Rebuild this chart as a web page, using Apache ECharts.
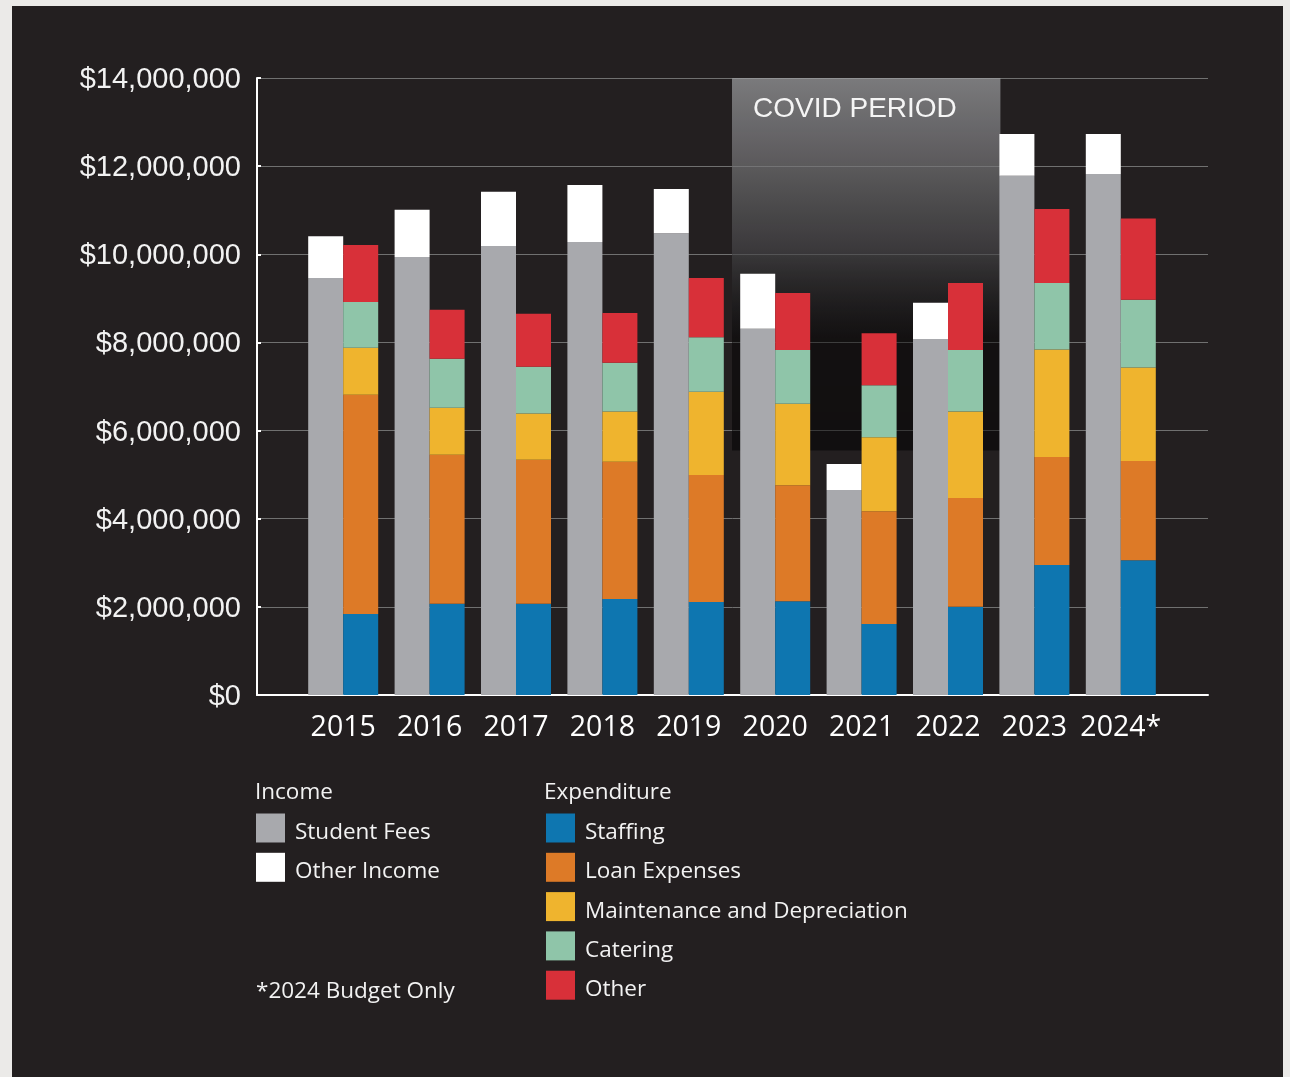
<!DOCTYPE html>
<html><head><meta charset="utf-8">
<script src="https://cdn.jsdelivr.net/npm/echarts@6/dist/echarts.min.js"></script>
<style>
html,body{margin:0;padding:0;background:#ebeae8;overflow:hidden;}
#panel{position:absolute;left:12px;top:6px;width:1271px;height:1071px;background:#231f20;}
#chart{position:absolute;left:0;top:0;width:1290px;height:1077px;}
</style></head><body>
<div id="panel"></div><div id="chart"></div>
<script>
// ---- data ----
const years = ['2015','2016','2017','2018','2019','2020','2021','2022','2023','2024*'];
const studentFees = [9460000, 9940000, 10190000, 10280000, 10480000, 8310000, 4650000, 8080000, 11780000, 11820000];
const otherIncome = [950000, 1070000, 1230000, 1290000, 1000000, 1250000, 590000, 820000, 950000, 910000];
const staffing    = [1840000, 2070000, 2070000, 2180000, 2110000, 2130000, 1610000, 2000000, 2950000, 3060000];
const loanExpenses= [4970000, 3380000, 3270000, 3110000, 2880000, 2630000, 2560000, 2470000, 2450000, 2250000];
const maintenance = [1070000, 1070000, 1050000, 1140000, 1890000, 1850000, 1680000, 1960000, 2440000, 2120000];
const catering    = [1040000, 1110000, 1060000, 1110000, 1240000, 1220000, 1180000, 1400000, 1510000, 1540000];
const otherExp    = [1290000, 1110000, 1200000, 1130000, 1340000, 1290000, 1180000, 1520000, 1680000, 1840000];
const yMax = 14000000, yInterval = 2000000;
const covidLabel = 'COVID PERIOD';
const covidFirstIdx = 5, covidAfterIdx = 8, covidBottomValue = 5550000;

// ---- styles ----
const C = {gray:'#a8a9ad', white:'#ffffff', blue:'#0e76b0', orange:'#dd7a27', yellow:'#efb42e', green:'#8fc5a9', red:'#d83039'};
const txt = '#f2f2f2';
const lf = '"Open Sans", "Noto Sans", sans-serif';
const af = '"Liberation Sans", Arial, sans-serif';

function money(v){ return '{a|$' + String(v).replace(/\B(?=(\d{3})+(?!\d))/g, ',') + '}'; }

const chart = echarts.init(document.getElementById('chart'));
const BW = 35;
function bar(name, data, stack, color){
  return {name, type:'bar', data, stack, xAxisIndex:1, yAxisIndex:1, barWidth:BW, barGap:'0%',
    itemStyle:{color}, emphasis:{disabled:true}, z:2};
}
const legendText = {color:txt, fontSize:22.5, fontFamily:lf,
  rich:{t:{color:txt, fontSize:22.5, fontFamily:lf, padding:[9,0,0,5]}}};
const titleText = {color:txt, fontSize:22.5, fontWeight:'normal', fontFamily:lf};
chart.setOption({
  backgroundColor:'transparent',
  animation:false,
  title:[
    {text:'Income', left:255, top:781, padding:0, textStyle:titleText},
    {text:'Expenditure', left:544, top:781, padding:0, textStyle:titleText},
    {text:'*2024 Budget Only', left:256, top:980, padding:0, textStyle:titleText}
  ],
  legend:[
    {data:['Student Fees','Other Income'], orient:'vertical', left:256, top:813.5, padding:0,
     itemWidth:29, itemHeight:29, itemGap:8.8, icon:'rect', selectedMode:false, textStyle:legendText,
     formatter:'{t|{name}}'},
    {data:['Staffing','Loan Expenses','Maintenance and Depreciation','Catering','Other'], orient:'vertical', left:546, top:813.5, padding:0,
     itemWidth:29, itemHeight:29, itemGap:8.8, icon:'rect', selectedMode:false, textStyle:legendText,
     formatter:'{t|{name}}'}
  ],
  grid:[
    {left:257, right:82, top:78, bottom:382},
    {left:300, right:126, top:78, bottom:382}
  ],
  xAxis:[
    {type:'value', gridIndex:0, min:0, max:1, axisLine:{show:true, lineStyle:{color:'#ffffff', width:2}},
     axisTick:{show:false}, axisLabel:{show:false}, splitLine:{show:false}},
    {type:'category', gridIndex:1, data:years, axisLine:{show:false}, axisTick:{show:false},
     axisLabel:{color:'#ffffff', fontSize:28.5, fontFamily:lf, margin:18, interval:0, hideOverlap:false}}
  ],
  yAxis:[
    {type:'value', gridIndex:0, min:0, max:yMax, interval:yInterval,
     axisLine:{show:true, lineStyle:{color:'#ffffff', width:2}},
     axisTick:{show:true, inside:true, length:4, lineStyle:{color:'#ffffff', width:2}},
     axisLabel:{color:txt, fontSize:29, fontFamily:af, margin:16, formatter:money,
       rich:{a:{color:txt, fontSize:29, fontFamily:af, padding:[4,0,0,0]}}},
     splitLine:{show:true, lineStyle:{color:'#707070', width:1}}},
    {type:'value', gridIndex:1, min:0, max:yMax, interval:yInterval, show:false, splitLine:{show:false}}
  ],
  series:[
    bar('Student Fees', studentFees, 'income', C.gray),
    bar('Other Income', otherIncome, 'income', C.white),
    bar('Staffing', staffing, 'exp', C.blue),
    bar('Loan Expenses', loanExpenses, 'exp', C.orange),
    bar('Maintenance and Depreciation', maintenance, 'exp', C.yellow),
    bar('Catering', catering, 'exp', C.green),
    bar('Other', otherExp, 'exp', C.red)
  ]
});

// COVID period shaded band
const xPrev = chart.convertToPixel({xAxisIndex:1}, covidFirstIdx - 1);
const xFirst = chart.convertToPixel({xAxisIndex:1}, covidFirstIdx);
const xAfter = chart.convertToPixel({xAxisIndex:1}, covidAfterIdx);
const yTop = chart.convertToPixel({yAxisIndex:1}, yMax);
const yBot = chart.convertToPixel({yAxisIndex:1}, covidBottomValue);
const x0 = (xPrev + xFirst) / 2, x1 = xAfter - BW + 1;
chart.setOption({
  graphic:[
    {type:'rect', z:1, silent:true, shape:{x:x0, y:yTop, width:x1 - x0, height:yBot - yTop},
     style:{fill:{type:'linear', x:0, y:0, x2:0, y2:1, colorStops:[
       {offset:0, color:'rgba(160,161,164,0.70)'},
       {offset:0.25, color:'rgba(115,115,117,0.68)'},
       {offset:0.47, color:'rgba(70,70,72,0.65)'},
       {offset:0.70, color:'rgba(0,0,0,0.45)'},
       {offset:1, color:'rgba(0,0,0,0.50)'}]}}},
    {type:'text', z:5, silent:true, x:x0 + 21, y:yTop + 31,
     style:{text:covidLabel, fill:'#f5f5f5', fontSize:28, fontFamily:af, verticalAlign:'middle', align:'left'}}
  ]
});
</script>
</body></html>
